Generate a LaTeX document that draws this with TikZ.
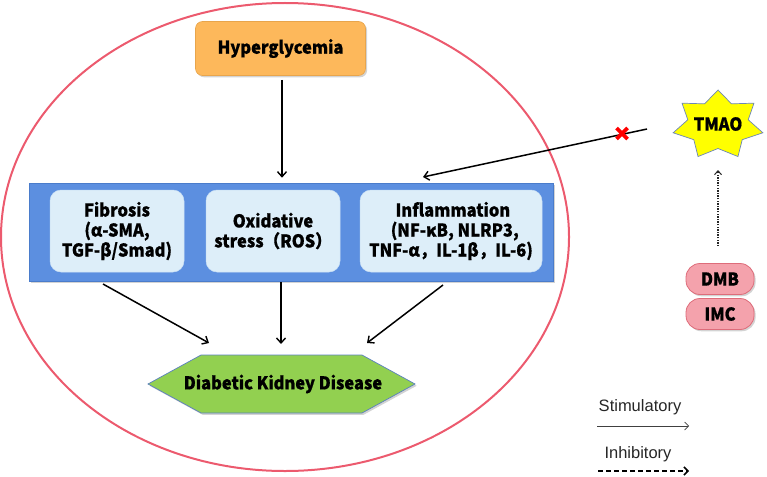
\documentclass[tikz,border=0pt]{standalone}
\usepackage{fontspec}
\setmainfont{Liberation Sans}
\newfontfamily\cjk{Noto Sans CJK SC}[FakeStretch=0.93, BoldFeatures={FakeBold=0.7}]
\usetikzlibrary{arrows.meta,shadows,calc}
\definecolor{ellred}{HTML}{EC5A6E}
\definecolor{orangefill}{HTML}{FDB85B}
\definecolor{orangeline}{HTML}{E8A54C}
\definecolor{bluefill}{HTML}{5C8FE0}
\definecolor{blueline}{HTML}{4A7CCB}
\definecolor{lightfill}{HTML}{DDEEF9}
\definecolor{greenfill}{HTML}{92D050}
\definecolor{greenline}{HTML}{5A7FC0}
\definecolor{pinkfill}{HTML}{F4A2AC}
\definecolor{pinkline}{HTML}{DE6C7A}
\definecolor{staryellow}{HTML}{FFFF00}
\definecolor{starline}{HTML}{6C86B8}
\tikzset{
  bold16/.style={font=\cjk\bfseries\fontsize{17.7}{20}\selectfont, align=center, text=black},
  shade/.style={drop shadow={shadow xshift=1.6pt, shadow yshift=-1.8pt, opacity=0.35}},
  hyperbox/.style={bold16, shade, rectangle, rounded corners=7pt, fill=orangefill, draw=orangeline, line width=0.6pt, minimum width=170pt, minimum height=54pt},
  bluebox/.style={shade, rectangle, fill=bluefill, draw=blueline, line width=0.6pt, minimum width=524pt, minimum height=98pt},
  inbox/.style={bold16, rectangle, rounded corners=11pt, fill=lightfill, draw=lightfill!85!bluefill, line width=0.5pt, minimum height=82pt, inner sep=2pt},
  pill/.style={bold16, shade, rectangle, rounded corners=14pt, fill=pinkfill, draw=pinkline, line width=0.8pt, minimum width=68pt, minimum height=31pt},
  arr/.style={-{Straight Barb[length=5pt,width=9pt,line width=1.4pt]}, line width=1.5pt, black},
  stimarr/.style={-{Straight Barb[length=4pt,width=8pt,line width=0.7pt]}, line width=0.9pt, black!75},
  inhibarr/.style={-{Straight Barb[length=4pt,width=8pt,line width=1.5pt]}, line width=1.6pt, black, dash pattern=on 5pt off 3pt},
  dotarr/.style={-{Straight Barb[length=4pt,width=7pt,line width=1pt]}, line width=1.4pt, black!85, dash pattern=on 1.3pt off 1.3pt},
  legtext/.style={font=\fontsize{16.5}{19}\selectfont, text=black!85},
}
\begin{document}
\begin{tikzpicture}[x=1pt,y=-1pt]
\useasboundingbox (0,0) rectangle (767,476);

% big ellipse
\draw[ellred, line width=2pt] (285,237) ellipse [x radius=284, y radius=234];

% Hyperglycemia
\node[hyperbox] (hyp) at (280.5,48.5) {Hyperglycemia};

% blue band with three boxes
\node[bluebox] (band) at (291,232) {};
\node[inbox, minimum width=134pt] (fib) at (117,231) {Fibrosis\\(α-SMA,\\TGF-β/Smad)};
\node[inbox, minimum width=134pt] (oxi) at (273,231) {Oxidative\\stress（ROS）};
\node[inbox, minimum width=182pt] (inf) at (451,231) {\ Inflammation\\\ \ (NF-κB, NLRP3,\\TNF-α，IL-1β，IL-6)};

% hexagon
\path[shade, fill=greenfill, draw=greenline, line width=0.7pt]
  (148,384) -- (201,355) -- (362,355) -- (415,384) -- (362,413) -- (201,413) -- cycle;
\node[bold16] (dkd) at (283,384) {Diabetic Kidney Disease};

% arrow hyperglycemia -> band
\draw[arr, shorten <=4pt, shorten >=5pt] (hyp.south -| 282,0) -- (band.north -| 282,0);

% arrows band -> DKD
\coordinate (s1) at (103,284);
\coordinate (s2) at (281,282);
\coordinate (s3) at (443,285);
\coordinate (e1) at (209,343);
\coordinate (e2) at (281,344);
\coordinate (e3) at (367,343);
\draw[arr] (s1) -- (e1);
\draw[arr] (s2) -- (e2);
\draw[arr] (s3) -- (e3);

% TMAO star
\path[fill=staryellow, draw=starline, line width=0.7pt]
  plot[samples at={0,...,13}] ({718 + (mod(\x,2)==0 ? 46 : 31)*cos(90+\x*360/14)},
                              {125 - (mod(\x,2)==0 ? 35 : 23.5)*sin(90+\x*360/14)}) -- cycle;
\node[bold16] (tmao) at (718,124) {TMAO};

% TMAO -> inflammation (blocked)
\coordinate (tl) at (647,129);
\coordinate (ti) at (423,177);
\draw[arr] (tl) -- (ti);
\coordinate (xm) at (622,133.5);
\draw[red, line width=3.8pt] ($(xm)+(-5.5,-5.5)$) -- ($(xm)+(5.5,5.5)$);
\draw[red, line width=3.8pt] ($(xm)+(-5.5,5.5)$) -- ($(xm)+(5.5,-5.5)$);

% DMB / IMC
\node[pill] (dmb) at (720,279) {DMB};
\node[pill] (imc) at (720,314) {IMC};
\coordinate (dtop) at (718,170);
\draw[dotarr] (dmb.north -| 718,0) ++(0,-17) coordinate (dstart) (dstart) -- (dtop);

% legend
\node[legtext] (stim) at (640,407) {Stimulatory};
\node[legtext] (inhib) at (638,454) {Inhibitory};
\coordinate (sa) at (597,426);
\coordinate (sb) at (689,426);
\coordinate (ia) at (598,471);
\coordinate (ib) at (689,471);
\draw[stimarr] (sa) -- (sb);
\draw[inhibarr] (ia) -- (ib);
\end{tikzpicture}
\end{document}
